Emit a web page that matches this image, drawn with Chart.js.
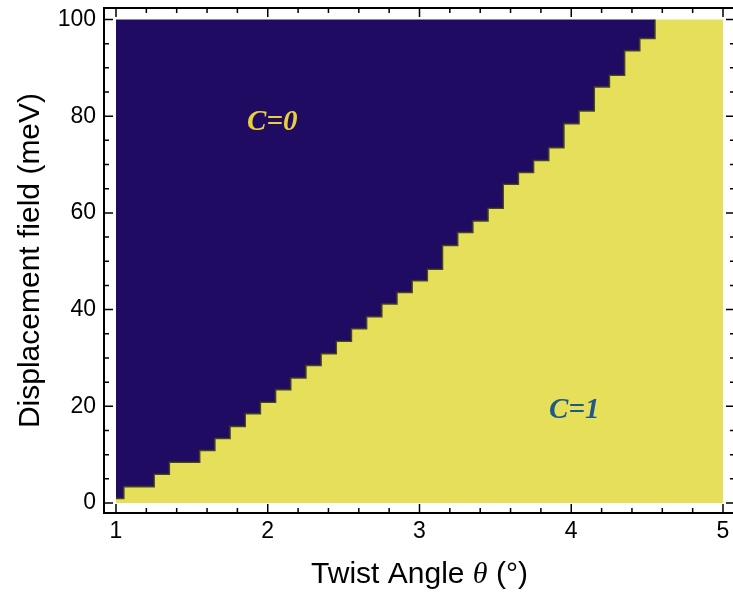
<!DOCTYPE html>
<html lang="en">
<head>
<meta charset="UTF-8">
<title>Phase diagram</title>
<script src="https://cdn.jsdelivr.net/npm/chart.js@4.4.1/dist/chart.umd.min.js"></script>
<style>
  html, body { margin: 0; padding: 0; background: #fff; overflow: hidden; }
  canvas { display: block; }
</style>
</head>
<body>
<canvas id="phaseChart" width="746" height="594"></canvas>
<script>
// twist angle grid, column centres (deg)
var twistAngle = [1.0, 1.1, 1.2, 1.3, 1.4, 1.5, 1.6, 1.7, 1.8, 1.9,
                  2.0, 2.1, 2.2, 2.3, 2.4, 2.5, 2.6, 2.7, 2.8, 2.9,
                  3.0, 3.1, 3.2, 3.3, 3.4, 3.5, 3.6, 3.7, 3.8, 3.9,
                  4.0, 4.1, 4.2, 4.3, 4.4, 4.5, 4.6, 4.7, 4.8, 4.9, 5.0];
// top of the C=1 region in each column (meV)
var boundaryField = [1.0, 3.4, 3.4, 6.0, 8.5, 8.5, 10.9, 13.4, 15.9, 18.5,
                     20.9, 23.5, 25.9, 28.5, 30.9, 33.5, 36.1, 38.6, 41.2, 43.6,
                     46.0, 48.4, 53.3, 56.0, 58.4, 61.0, 66.0, 68.4, 70.9, 73.5,
                     78.5, 81.1, 86.1, 88.5, 93.6, 96.1, 100, 100, 100, 100, 100];
var xTicks = [1, 2, 3, 4, 5];
var yTicks = [0, 20, 40, 60, 80, 100];
var phaseNames = ['C=0', 'C=1'];

var navy = '#1f0b62';
var yellow = '#e6df59';
var edge = 'rgba(45, 40, 35, 0.85)';
var sans = '"Liberation Sans", Arial, sans-serif';

// left edge of every column, plus the closing point at 5
var edgePoints = twistAngle.map(function (t, i) {
    return { x: Math.max(1, t - 0.05), y: boundaryField[i] };
});
edgePoints.push({ x: 5, y: boundaryField[boundaryField.length - 1] });

// the dark outline stops where the boundary reaches the top
var topIdx = edgePoints.findIndex(function (p) { return p.y >= 100; });
var outlinePoints = edgePoints.slice(0, topIdx + 1);

var framePlugin = {
    id: 'frame',
    afterDatasetsDraw: function (chart) {
        var ctx = chart.ctx, a = chart.chartArea;
        var xs = chart.scales.x, ys = chart.scales.y;
        ctx.save();

        // phase labels
        ctx.font = 'italic bold 29px "Liberation Serif", serif';
        ctx.textAlign = 'center';
        ctx.textBaseline = 'middle';
        ctx.fillStyle = '#e9cf3b';
        ctx.fillText(phaseNames[0], xs.getPixelForValue(2.03), ys.getPixelForValue(78.6));
        ctx.fillStyle = '#1d5a8a';
        ctx.fillText(phaseNames[1], xs.getPixelForValue(4.02), ys.getPixelForValue(19.2));

        // frame
        ctx.strokeStyle = '#000';
        ctx.lineWidth = 2;
        ctx.strokeRect(a.left, a.top, a.right - a.left, a.bottom - a.top);

        // inward ticks on all four sides
        ctx.lineWidth = 1.5;
        ctx.beginPath();
        for (var k = 0; k <= 20; k++) {
            var px = xs.getPixelForValue(1 + k * 0.2);
            var len = (k % 5 === 0) ? 9 : 5;
            ctx.moveTo(px, a.bottom); ctx.lineTo(px, a.bottom - len);
            ctx.moveTo(px, a.top); ctx.lineTo(px, a.top + len);
        }
        for (var m = 0; m <= 20; m++) {
            var py = ys.getPixelForValue(m * 5);
            var l2 = (m % 4 === 0) ? 9 : 5;
            ctx.moveTo(a.left, py); ctx.lineTo(a.left + l2, py);
            ctx.moveTo(a.right, py); ctx.lineTo(a.right - l2, py);
        }
        ctx.stroke();

        // x title with italic theta
        var parts = [
            ['Twist Angle ', '30px ' + sans],
            ['\u03b8', 'italic 30px "Liberation Serif", serif'],
            [' (\u00b0)', '30px ' + sans]
        ];
        var total = 0;
        parts.forEach(function (p) { ctx.font = p[1]; total += ctx.measureText(p[0]).width; });
        var tx = (a.left + a.right) / 2 - total / 2;
        ctx.fillStyle = '#000';
        ctx.textAlign = 'left';
        ctx.textBaseline = 'middle';
        parts.forEach(function (p) {
            ctx.font = p[1];
            ctx.fillText(p[0], tx, 575);
            tx += ctx.measureText(p[0]).width;
        });
        ctx.restore();
    }
};

var ctx = document.getElementById('phaseChart');
new Chart(ctx, {
    type: 'line',
    data: {
        datasets: [{
            label: 'edge',
            data: outlinePoints,
            stepped: 'before',
            fill: false,
            borderColor: edge,
            borderWidth: 2,
            pointRadius: 0
        }, {
            label: phaseNames[1],
            data: edgePoints,
            stepped: 'before',
            fill: { value: 0 },
            backgroundColor: yellow,
            borderWidth: 0,
            pointRadius: 0
        }, {
            label: phaseNames[0],
            data: edgePoints,
            stepped: 'before',
            fill: { value: 100 },
            backgroundColor: navy,
            borderWidth: 0,
            pointRadius: 0
        }]
    },
    options: {
        responsive: false,
        animation: false,
        layout: { padding: { top: 8, right: 11, left: 0, bottom: 0 } },
        plugins: { legend: { display: false }, tooltip: { enabled: false } },
        scales: {
            x: {
                type: 'linear',
                min: 0.921,
                max: 5.079,
                afterBuildTicks: function (s) { s.ticks = xTicks.map(function (v) { return { value: v }; }); },
                afterFit: function (s) { s.height = 81; s.paddingLeft = 0; s.paddingRight = 0; },
                grid: { display: false, drawTicks: false, tickLength: 0 },
                border: { display: false },
                ticks: { color: '#000', font: { family: sans, size: 23 }, padding: 5, maxRotation: 0, autoSkip: false }
            },
            y: {
                type: 'linear',
                min: -2.06,
                max: 102.37,
                afterBuildTicks: function (s) { s.ticks = yTicks.map(function (v) { return { value: v }; }); },
                afterFit: function (s) { s.width = 104; s.paddingTop = 0; s.paddingBottom = 0; },
                grid: { display: false, drawTicks: false, tickLength: 0 },
                border: { display: false },
                ticks: { color: '#000', font: { family: sans, size: 23 }, padding: 8, autoSkip: false },
                title: {
                    display: true,
                    text: 'Displacement field (meV)',
                    color: '#000',
                    font: { family: sans, size: 30 },
                    padding: { top: 13, bottom: 0 }
                }
            }
        }
    },
    plugins: [framePlugin]
});
</script>
</body>
</html>
